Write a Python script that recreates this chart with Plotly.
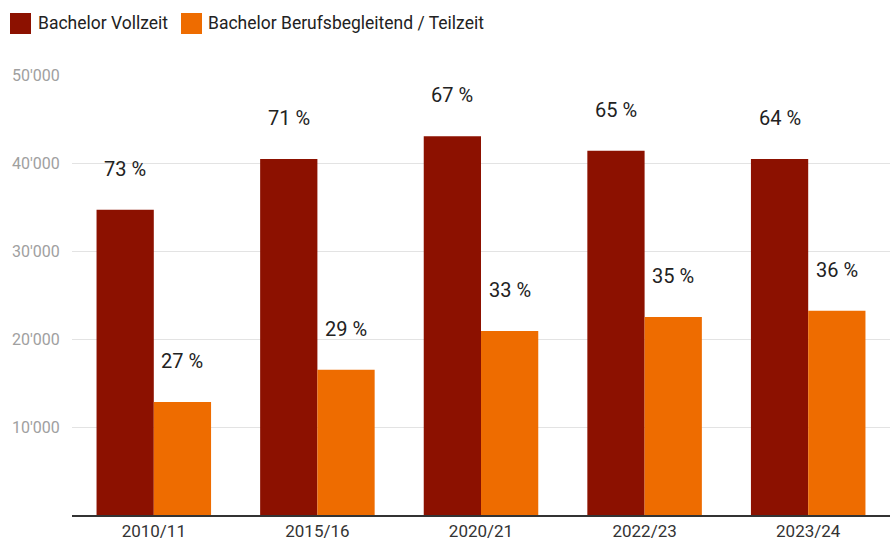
import plotly.graph_objects as go

categories = ["2010/11", "2015/16", "2020/21", "2022/23", "2023/24"]
vollzeit = [34700, 40450, 43050, 41400, 40450]
teilzeit = [12850, 16500, 20900, 22500, 23200]
pct_vollzeit = ["73 %", "71 %", "67 %", "65 %", "64 %"]
pct_teilzeit = ["27 %", "29 %", "33 %", "35 %", "36 %"]
series_names = ["Bachelor Vollzeit", "Bachelor Berufsbegleitend / Teilzeit"]
colors = ["#8c1100", "#ee6c00"]
tick_vals = [10000, 20000, 30000, 40000, 50000]
tick_text = ["10'000", "20'000", "30'000", "40'000", "50'000"]

W, H = 896, 543
ML, MR, MT, MB = 72, 6, 75, 28
pw = W - ML - MR
ph = H - MT - MB

fig = go.Figure()
fig.add_trace(go.Bar(x=categories, y=vollzeit, name=series_names[0],
                     marker=dict(color=colors[0], line=dict(width=0)), showlegend=False))
fig.add_trace(go.Bar(x=categories, y=teilzeit, name=series_names[1],
                     marker=dict(color=colors[1], line=dict(width=0)), showlegend=False))

annotations = []
bar_px = pw / len(categories) * 0.7 / 2
for c, v, t in zip(categories, vollzeit, pct_vollzeit):
    annotations.append(dict(x=c, y=v, text=t, showarrow=False, xshift=-bar_px / 2,
                            yshift=41, font=dict(size=20, color="#222222"), yanchor="middle"))
for c, v, t in zip(categories, teilzeit, pct_teilzeit):
    annotations.append(dict(x=c, y=v, text=t, showarrow=False, xshift=bar_px / 2,
                            yshift=41, font=dict(size=20, color="#222222"), yanchor="middle"))

def px_x(p):
    return (p - ML) / pw

def px_y(p):
    return (H - MB - p) / ph

shapes = []
legend_pos = [(10, 36), (181, 206)]
for (sx, tx), name, col in zip(legend_pos, series_names, colors):
    shapes.append(dict(type="rect", xref="paper", yref="paper",
                       x0=px_x(sx), x1=px_x(sx + 21), y0=px_y(34), y1=px_y(13),
                       fillcolor=col, line=dict(width=0)))
    annotations.append(dict(xref="paper", yref="paper", x=px_x(tx), y=px_y(23),
                            text=name, showarrow=False, xanchor="left", yanchor="middle",
                            font=dict(size=17.5, color="#222222")))

fig.update_layout(
    width=W, height=H,
    margin=dict(l=ML, r=MR, t=MT, b=MB),
    paper_bgcolor="white", plot_bgcolor="white",
    font=dict(family="Roboto", size=16),
    barmode="group", bargap=0.3, bargroupgap=0,
    annotations=annotations, shapes=shapes,
    xaxis=dict(showline=True, linecolor="#333333", linewidth=1.5, ticks="",
               tickfont=dict(size=17, color="#333333"), showgrid=False,
               automargin=False, ticklabelstandoff=0),
    yaxis=dict(range=[0, 50000], tickvals=tick_vals, ticktext=tick_text,
               showgrid=True, gridcolor="#e3e3e3", gridwidth=1, zeroline=False,
               tickfont=dict(size=16, color="#a0a0a0"), ticks="outside",
               ticklen=8, tickcolor="white", automargin=False),
)

fig.write_html("out.html")
